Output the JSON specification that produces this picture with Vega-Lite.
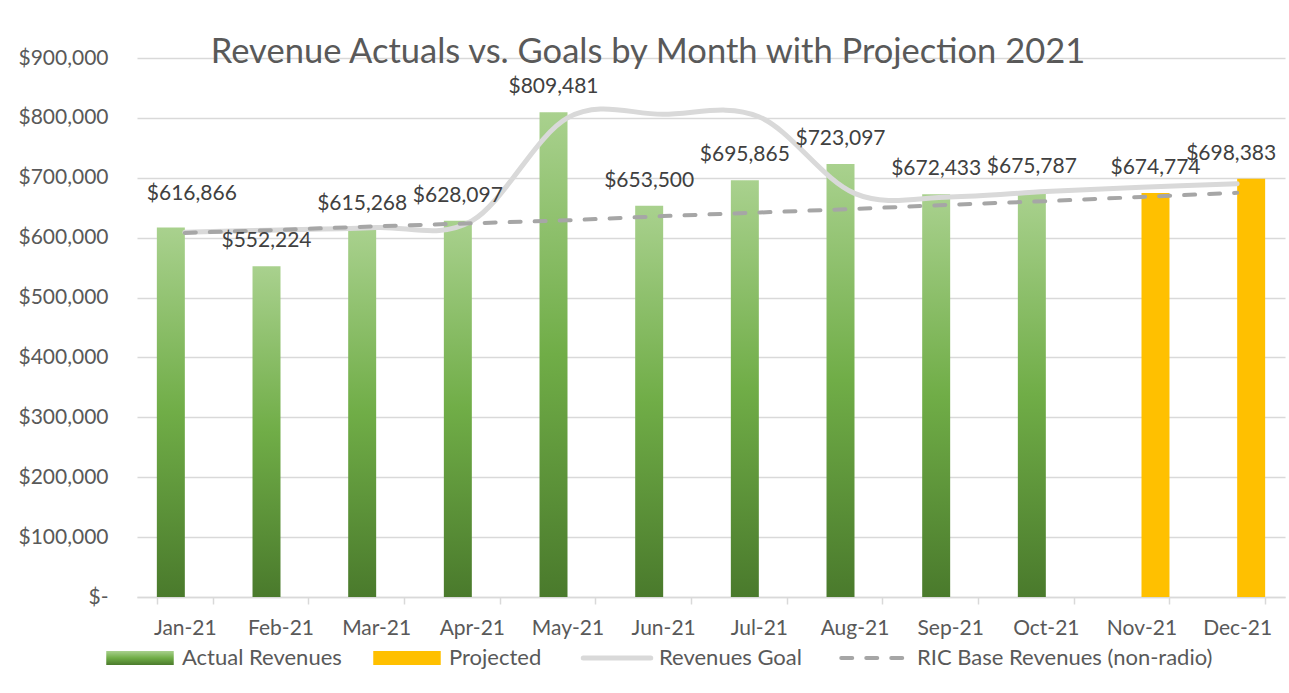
{
  "$schema": "https://vega.github.io/schema/vega-lite/v6.json",
  "width": 1148,
  "height": 539,
  "autosize": "none",
  "padding": {"left": 137, "top": 58, "right": 4, "bottom": 96},
  "background": "white",
  "config": {"font": "Lato", "view": {"stroke": null}},
  "title": {
    "text": "Revenue Actuals vs. Goals by Month with Projection 2021",
    "font": "Lato", "fontSize": 34.5, "fontWeight": "normal", "color": "#595959",
    "anchor": "middle", "dx": -63, "dy": 45, "offset": -5, "baseline": "alphabetic"
  },
  "data": {
    "values": [
      {"month": "Jan-21", "series": "Actual Revenues", "value": 616866},
      {"month": "Feb-21", "series": "Actual Revenues", "value": 552224},
      {"month": "Mar-21", "series": "Actual Revenues", "value": 615268},
      {"month": "Apr-21", "series": "Actual Revenues", "value": 628097},
      {"month": "May-21", "series": "Actual Revenues", "value": 809481},
      {"month": "Jun-21", "series": "Actual Revenues", "value": 653500},
      {"month": "Jul-21", "series": "Actual Revenues", "value": 695865},
      {"month": "Aug-21", "series": "Actual Revenues", "value": 723097},
      {"month": "Sep-21", "series": "Actual Revenues", "value": 672433},
      {"month": "Oct-21", "series": "Actual Revenues", "value": 675787},
      {"month": "Nov-21", "series": "Projected", "value": 674774},
      {"month": "Dec-21", "series": "Projected", "value": 698383},
      {"month": "Jan-21", "series": "Revenues Goal", "value": 609000},
      {"month": "Feb-21", "series": "Revenues Goal", "value": 613000},
      {"month": "Mar-21", "series": "Revenues Goal", "value": 617000},
      {"month": "Apr-21", "series": "Revenues Goal", "value": 628000},
      {"month": "May-21", "series": "Revenues Goal", "value": 800000},
      {"month": "Jun-21", "series": "Revenues Goal", "value": 806000},
      {"month": "Jul-21", "series": "Revenues Goal", "value": 802000},
      {"month": "Aug-21", "series": "Revenues Goal", "value": 674000},
      {"month": "Sep-21", "series": "Revenues Goal", "value": 668000},
      {"month": "Oct-21", "series": "Revenues Goal", "value": 677000},
      {"month": "Nov-21", "series": "Revenues Goal", "value": 684000},
      {"month": "Dec-21", "series": "Revenues Goal", "value": 690000},
      {"month": "Jan-21", "series": "RIC Base Revenues (non-radio)", "value": 608000},
      {"month": "Feb-21", "series": "RIC Base Revenues (non-radio)", "value": 613000},
      {"month": "Mar-21", "series": "RIC Base Revenues (non-radio)", "value": 619000},
      {"month": "Apr-21", "series": "RIC Base Revenues (non-radio)", "value": 624000},
      {"month": "May-21", "series": "RIC Base Revenues (non-radio)", "value": 629000},
      {"month": "Jun-21", "series": "RIC Base Revenues (non-radio)", "value": 636000},
      {"month": "Jul-21", "series": "RIC Base Revenues (non-radio)", "value": 642000},
      {"month": "Aug-21", "series": "RIC Base Revenues (non-radio)", "value": 648000},
      {"month": "Sep-21", "series": "RIC Base Revenues (non-radio)", "value": 655000},
      {"month": "Oct-21", "series": "RIC Base Revenues (non-radio)", "value": 661000},
      {"month": "Nov-21", "series": "RIC Base Revenues (non-radio)", "value": 668000},
      {"month": "Dec-21", "series": "RIC Base Revenues (non-radio)", "value": 675000}
    ]
  },
  "encoding": {
    "x": {
      "field": "month", "type": "nominal", "sort": null,
      "scale": {"paddingInner": 0.415, "paddingOuter": 0.2075},
      "axis": {
        "title": null, "labelAngle": 0, "grid": false,
        "domainColor": "#d9d9d9", "domainWidth": 1.5,
        "tickColor": "#d9d9d9", "tickWidth": 1.5, "tickSize": 7, "tickBand": "extent",
        "labelPadding": 13, "labelFont": "Lato", "labelFontSize": 21, "labelColor": "#595959"
      }
    },
    "y": {
      "field": "value", "type": "quantitative",
      "scale": {"domain": [0, 900000], "nice": false},
      "axis": {
        "title": null, "values": [0, 100000, 200000, 300000, 400000, 500000, 600000, 700000, 800000, 900000],
        "labelExpr": "datum.value == 0 ? '$-\u00a0\u00a0\u00a0\u00a0\u00a0\u00a0' : format(datum.value, '$,.0f')",
        "domain": false, "ticks": false, "labelPadding": 29,
        "gridColor": "#d9d9d9", "gridWidth": 1.3,
        "labelFont": "Lato", "labelFontSize": 21, "labelColor": "#595959"
      }
    }
  },
  "layer": [
    {
      "transform": [{"filter": "datum.series == 'Actual Revenues' || datum.series == 'Projected'"}],
      "mark": {"type": "bar"},
      "encoding": {
        "xOffset": {"field": "series", "type": "nominal", "scale": {"domain": ["Actual Revenues", "Projected"], "paddingInner": 0, "paddingOuter": 0}},
        "fill": {
          "condition": {"test": "datum.series == 'Actual Revenues'", "value": {"gradient": "linear", "x1": 0, "y1": 0, "x2": 0, "y2": 1, "stops": [{"offset": 0, "color": "#a9d18e"}, {"offset": 0.5, "color": "#70ad47"}, {"offset": 1, "color": "#4a7a2c"}]}},
          "value": "#ffc000"
        }
      }
    },
    {
      "transform": [{"filter": "datum.series == 'Revenues Goal'"}],
      "mark": {"type": "line", "strokeWidth": 5, "interpolate": "cardinal", "tension": 0, "strokeCap": "round"},
      "encoding": {
        "color": {
          "field": "series", "type": "nominal",
          "scale": {
            "domain": ["Actual Revenues", "Projected", "Revenues Goal", "RIC Base Revenues (non-radio)"],
            "range": ["#70ad47", "#ffc000", "#d9d9d9", "#a6a6a6"]
          },
          "legend": {
            "orient": "none", "legendX": -8, "legendY": 589, "direction": "horizontal",
            "title": null, "symbolSize": 4556,
            "labelFont": "Lato", "labelFontSize": 22, "labelColor": "#595959", "labelLimit": 500,
            "labelOffset": 31, "columnPadding": 31,
            "encode": {
              "symbols": {
                "update": {
                  "shape": {"signal": "(datum.value == 'Actual Revenues' || datum.value == 'Projected') ? 'M-1,-0.21H1V0.21H-1Z' : 'M-1,0H1'"},
                  "fill": [
                    {"test": "datum.value == 'Actual Revenues'", "value": {"gradient": "linear", "x1": 0, "y1": 0, "x2": 0, "y2": 1, "stops": [{"offset": 0, "color": "#a9d18e"}, {"offset": 0.5, "color": "#70ad47"}, {"offset": 1, "color": "#4a7a2c"}]}},
                    {"test": "datum.value == 'Projected'", "value": "#ffc000"},
                    {"value": "transparent"}
                  ],
                  "stroke": [
                    {"test": "datum.value == 'Revenues Goal'", "value": "#d9d9d9"},
                    {"test": "datum.value == 'RIC Base Revenues (non-radio)'", "value": "#a6a6a6"},
                    {"value": "transparent"}
                  ],
                  "strokeWidth": {"signal": "datum.value == 'Revenues Goal' ? 5 : (datum.value == 'RIC Base Revenues (non-radio)' ? 4 : 0)"},
                  "strokeDash": {"signal": "datum.value == 'RIC Base Revenues (non-radio)' ? [11, 14] : [1, 0]"},
                  "strokeCap": {"value": "round"},
                  "opacity": {"value": 1}
                }
              }
            }
          }
        }
      }
    },
    {
      "transform": [{"filter": "datum.series == 'RIC Base Revenues (non-radio)'"}],
      "mark": {"type": "line", "color": "#a6a6a6", "strokeWidth": 4, "strokeDash": [11, 14], "strokeCap": "round"},
      "encoding": {}
    },
    {
      "transform": [{"filter": "datum.series == 'Actual Revenues' || datum.series == 'Projected'"}],
      "mark": {
        "type": "text", "font": "Lato", "fontSize": 21, "color": "#404040", "baseline": "middle",
        "dy": {"expr": "datum.month == 'Jan-21' ? -34 : -25"},
        "dx": {"expr": "datum.month == 'Jan-21' ? 21 : (datum.month == 'Dec-21' ? -20 : 0)"}
      },
      "encoding": {
        "xOffset": {"field": "series", "type": "nominal", "scale": {"domain": ["Actual Revenues", "Projected"], "paddingInner": 0, "paddingOuter": 0}},
        "text": {"field": "value", "type": "quantitative", "format": "$,.0f"}
      }
    }
  ]
}
